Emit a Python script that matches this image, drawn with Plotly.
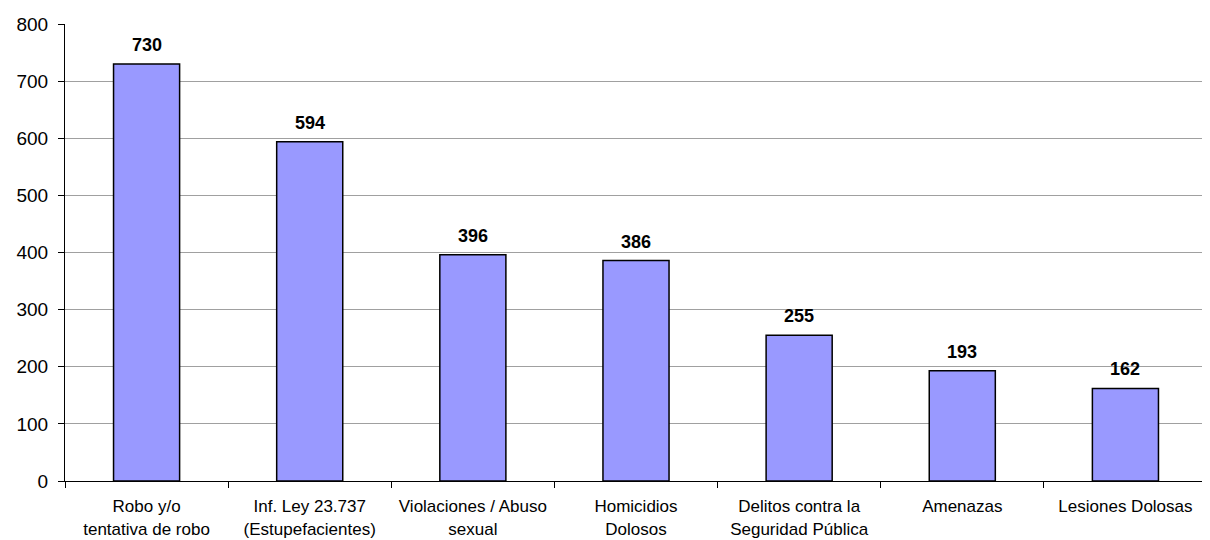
import plotly.graph_objects as go

categories = ["Robo y/o<br>tentativa de robo", "Inf. Ley 23.737<br>(Estupefacientes)",
              "Violaciones / Abuso<br>sexual", "Homicidios<br>Dolosos",
              "Delitos contra la<br>Seguridad Pública", "Amenazas", "Lesiones Dolosas"]
values = [730, 594, 396, 386, 255, 193, 162]
y_ticks = [0, 100, 200, 300, 400, 500, 600, 700, 800]

FONT = "Liberation Sans, Arial"

fig = go.Figure(go.Bar(
    x=categories, y=values,
    marker=dict(color="#9999FF", line=dict(color="black", width=1.5)),
    width=0.405,
))
for c, v in zip(categories, values):
    fig.add_annotation(x=c, y=v, text=f"<b>{v}</b>", showarrow=False,
                       yanchor="bottom", yshift=7,
                       font=dict(family=FONT, size=18, color="black"))

# page body has an 8px margin, so the figure is 8px smaller and margins shifted
fig.update_layout(
    width=1202, height=532,
    margin=dict(l=57, r=3, t=16, b=59, autoexpand=False),
    plot_bgcolor="white", paper_bgcolor="white",
    font=dict(family=FONT, color="black"),
    showlegend=False,
)
fig.update_xaxes(
    automargin=False,
    showline=True, linecolor="black", linewidth=1,
    ticks="outside", tickson="boundaries", ticklen=6, tickcolor="black",
    tickfont=dict(size=17), showgrid=False, ticklabelstandoff=10,
)
fig.update_yaxes(
    automargin=False,
    range=[0, 800], tickvals=y_ticks, showline=True, linecolor="black", linewidth=1,
    ticks="outside", ticklen=6, tickcolor="black", tickfont=dict(size=19),
    showgrid=True, gridcolor="#A0A0A0", gridwidth=1, zeroline=False,
    ticklabelstandoff=6,
)
fig.write_html("out.html")
